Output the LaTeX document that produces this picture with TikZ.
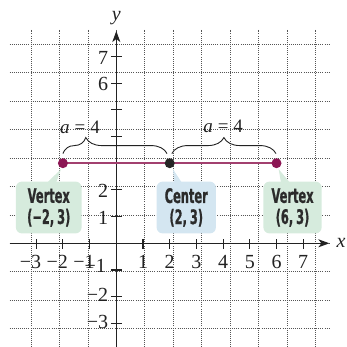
\documentclass[tikz,border=0pt]{standalone}
\usepackage{fontspec}
\setmainfont{Liberation Serif}
\newfontfamily\callfont[FakeStretch=0.57,FakeBold=0.8]{DejaVu Sans}
\usetikzlibrary{arrows.meta,decorations.pathreplacing}
\definecolor{gridc}{HTML}{555555}
\definecolor{axisc}{HTML}{222222}
\definecolor{segc}{HTML}{A2406F}
\definecolor{dotc}{HTML}{8C1654}
\definecolor{greenc}{HTML}{D6EBDD}
\definecolor{bluec}{HTML}{D4E6F1}
\definecolor{textc}{HTML}{2B2B2B}
\tikzset{
  gridline/.style={gridc, line width=0.6pt, dash pattern=on 0.6pt off 1.5pt},
  axisline/.style={axisc, line width=1.2pt},
  tickmark/.style={axisc, line width=1.1pt},
  ticklab/.style={inner sep=0pt, font=\fontsize{20}{20}\selectfont, text=axisc},
  bracestyle/.style={axisc, line width=0.9pt, decorate},
  alab/.style={inner sep=0pt, font=\fontsize{19}{19}\selectfont, text=axisc},
  callout/.style={rounded corners=6pt, inner sep=0pt, align=center, text=textc,
    font=\callfont\bfseries\fontsize{20}{21.6}\selectfont},
  ptdot/.style={circle, inner sep=0pt, minimum size=10pt},
}
\begin{document}
\begin{tikzpicture}[x=26.7pt,y=26.7pt]
\useasboundingbox (-4.356,-3.884) rectangle (8.603,9.112);
% grid
\draw[gridline] (-4,-3.884) grid (8,8);
% callout boxes
\node[callout, fill=greenc, minimum width=65.7pt, minimum height=51.8pt] (lbox) at (-2.53,1.34) {Vertex\\[-0.5pt](−2,\hspace{3pt}3)};
\fill[greenc] (-2.66,2.2) -- (-2.07,2.78) -- (-2.28,2.2) -- cycle;
\node[callout, fill=bluec, minimum width=59.3pt, minimum height=51.8pt] (cbox) at (2.62,1.34) {Center\\[-0.5pt](2,\hspace{3pt}3)};
\fill[bluec] (2.18,2.2) -- (2.12,2.78) -- (2.5,2.2) -- cycle;
\node[callout, fill=greenc, minimum width=58.2pt, minimum height=51.8pt] (rbox) at (6.6,1.34) {Vertex\\[-0.5pt](6,\hspace{3pt}3)};
\fill[greenc] (6.18,2.2) -- (6.08,2.78) -- (6.56,2.2) -- cycle;
% axes
\coordinate (xs) at (-4,0);
\coordinate (xe) at (7.98,0);
\coordinate (ys) at (0,-3.884);
\coordinate (ye) at (0,7.95);
\draw[axisline, -{Stealth[length=11pt,width=8pt,inset=3pt]}] (xs) -- (xe);
\draw[axisline, -{Stealth[length=11pt,width=8pt,inset=3pt]}] (ys) -- (ye);
\node[inner sep=0pt, font=\fontsize{20}{20}\selectfont\itshape, text=axisc] (xlab) at (8.42,0.02) {x};
\node[inner sep=0pt, font=\fontsize{20}{20}\selectfont\itshape, text=axisc] (ylab) at (0,8.45) {y};
% ticks
\foreach \k in {-3,-2,-1,1,2,3,4,5,6,7} {
  \draw[tickmark] (\k,-0.2) -- (\k,0.15);
}
\foreach \k in {-3,-2,-1,1,2,3,4,5,6,7} {
  \draw[tickmark] (-0.2,\k) -- (0.2,\k);
}
% tick labels
\foreach \k in {1,2,3,4,5,6,7} {
  \node[ticklab] (xl\k) at (\k,-0.7) {\k};
}
\foreach \k in {1,2,3} {
  \node[ticklab] (xlm\k) at (-\k,-0.7) {\makebox[0pt][r]{−}\k};
}
\foreach \k in {1,2,6,7} {
  \node[ticklab, anchor=east] (yl\k) at (-0.3,\k-0.04) {\k};
}
\node[ticklab, anchor=east] (ylm1) at (-0.38,-0.86) {−1};
\foreach \k in {2,3} {
  \node[ticklab, anchor=east] (ylm\k) at (-0.3,-\k+0.05) {−\k};
}
% segment and points
\coordinate (V1) at (-2,3);
\coordinate (C) at (2,3);
\coordinate (V2) at (6,3);
\draw[segc, line width=1.6pt] (V1) -- (V2);
\node[ptdot, fill=dotc] (v1dot) at (V1) {};
\node[ptdot, fill=black!85] (cdot) at (C) {};
\node[ptdot, fill=dotc] (v2dot) at (V2) {};
% braces
\coordinate (b1s) at (-2,3.36);
\coordinate (b1e) at (1.9,3.36);
\coordinate (b2s) at (2.08,3.36);
\coordinate (b2e) at (5.98,3.36);
\draw[bracestyle, decoration={brace, amplitude=16pt, aspect=0.22}] (b1s) -- (b1e);
\draw[bracestyle, decoration={brace, amplitude=16pt, aspect=0.5}] (b2s) -- (b2e);
\node[alab] (a1) at (-1.36,4.36) {\textit{a}\hspace{5pt}=\hspace{5pt}4};
\node[alab] (a2) at (4.0,4.38) {\textit{a}\hspace{5pt}=\hspace{5pt}4};
\end{tikzpicture}
\end{document}
